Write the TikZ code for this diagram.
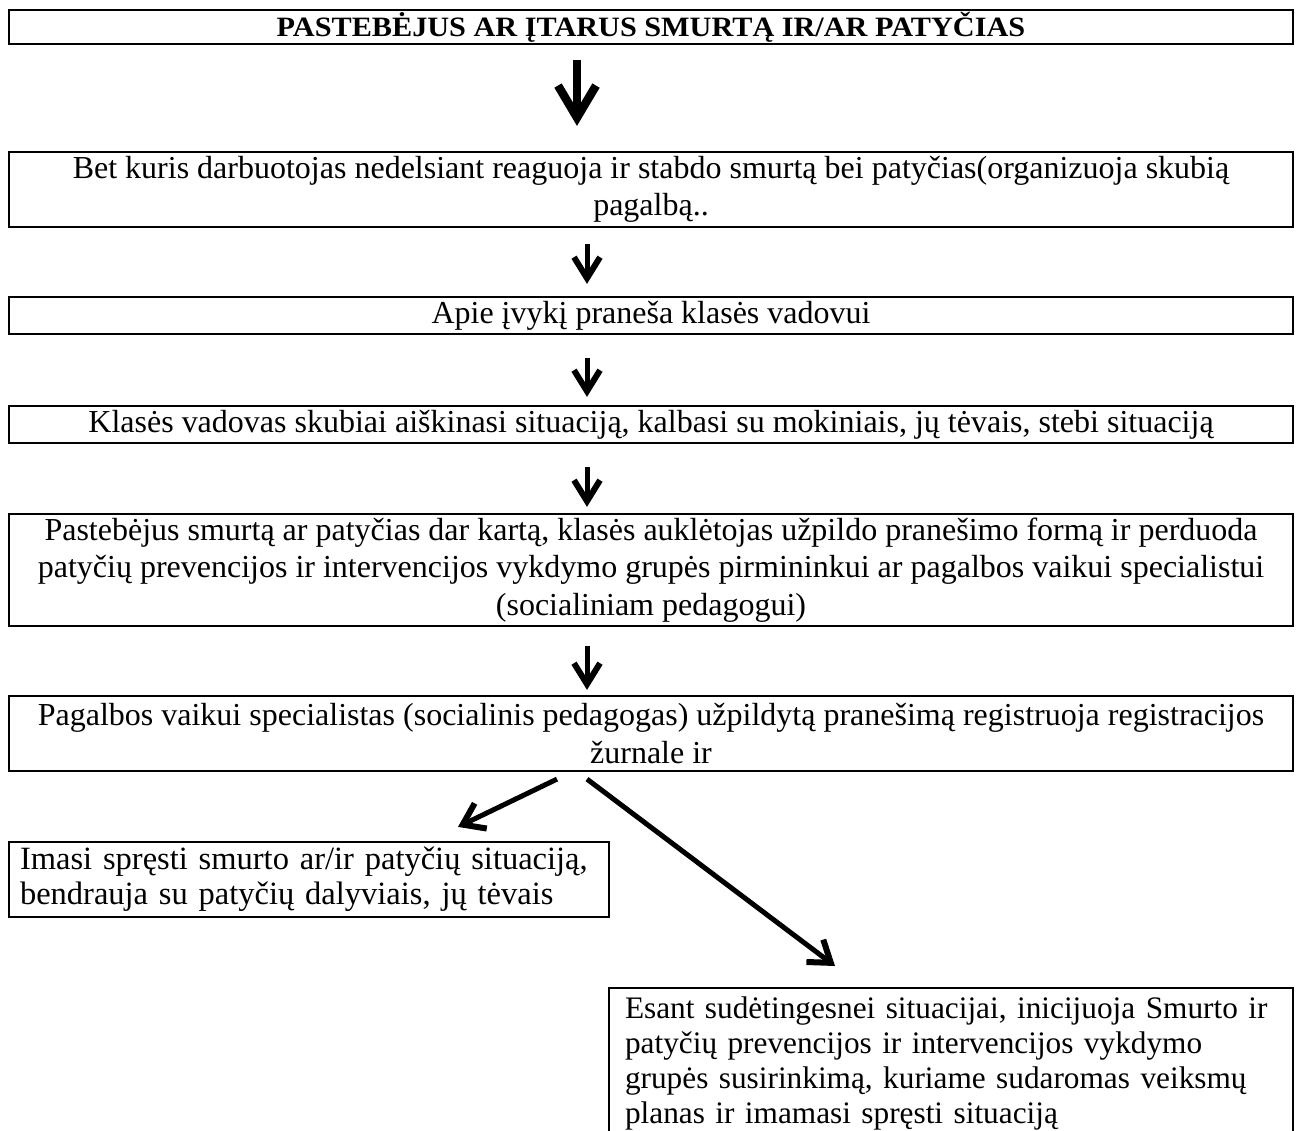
\documentclass[tikz,border=0pt]{standalone}
\usepackage{fontspec}
\setmainfont{Liberation Serif}
\usetikzlibrary{arrows.meta}
\begin{document}
\begin{tikzpicture}[x=1pt,y=-1pt,
  box/.style={draw, line width=2.2pt, inner sep=0pt, align=center,
    font=\fontsize{32}{37.5}\selectfont},
  lbox/.style={draw, line width=2.2pt, inner ysep=0pt, align=left,
    font=\fontsize{32.5}{35}\selectfont},
  arr/.style={line width=5pt, -{Straight Barb[length=21pt,width=26pt,line width=6pt]}},
  darr/.style={line width=5pt, -{Straight Barb[length=20pt,width=28pt,line width=6pt]}},
  bigarr/.style={line width=8pt, -{Straight Barb[length=32pt,width=38pt,line width=8.5pt]}}]
\useasboundingbox (0,0) rectangle (1304,1131);
\clip (0,0) rectangle (1304,1131);
\coordinate (ca) at (577,0);
\coordinate (cb) at (587,0);
\node[box, minimum width=1284pt, minimum height=34pt,
  font=\bfseries\fontsize{28}{31}\selectfont\addfontfeature{FakeStretch=1.08}] (b1) at (651,27)
  {PASTEBĖJUS AR ĮTARUS SMURTĄ IR/AR PATYČIAS};
\node[box, minimum width=1284pt, minimum height=75pt] (b2) at (651,189.5)
  {Bet kuris darbuotojas nedelsiant reaguoja ir stabdo smurtą bei patyčias(organizuoja skubią\\pagalbą..};
\node[box, minimum width=1284pt, minimum height=37pt] (b3) at (651,315.5)
  {Apie įvykį praneša klasės vadovui};
\node[box, minimum width=1284pt, minimum height=37pt] (b4) at (651,424.5)
  {Klasės vadovas skubiai aiškinasi situaciją, kalbasi su mokiniais, jų tėvais, stebi situaciją};
\node[box, minimum width=1284pt, minimum height=112pt] (b5) at (651,570)
  {Pastebėjus smurtą ar patyčias dar kartą, klasės auklėtojas užpildo pranešimo formą ir perduoda\\
   patyčių prevencijos ir intervencijos vykdymo grupės pirmininkui ar pagalbos vaikui specialistui\\
   (socialiniam pedagogui)};
\node[box, minimum width=1284pt, minimum height=75pt] (b6) at (651,733.5)
  {Pagalbos vaikui specialistas (socialinis pedagogas) užpildytą pranešimą registruoja registracijos\\
   žurnale ir};
\node[lbox, minimum width=600pt, minimum height=75pt, text width=578pt, inner xsep=11pt] (b7) at (309,879.5)
  {Imasi spręsti smurto ar/ir patyčių situaciją,\\bendrauja su patyčių dalyviais, jų tėvais};
\node[lbox, anchor=north, minimum width=684pt, text width=652pt, inner xsep=16pt, inner ysep=5.5pt,
  font=\fontsize{31.3}{35}\selectfont] (b8) at (951,987)
  {\strut Esant sudėtingesnei situacijai, inicijuoja Smurto ir\\
   patyčių prevencijos ir intervencijos vykdymo\\
   grupės susirinkimą, kuriame sudaromas veiksmų\\
   planas ir imamasi spręsti situaciją\strut};
\draw[bigarr, shorten <=15pt, shorten >=25pt] (b1.south -| ca) -- (b2.north -| ca);
\draw[arr, shorten <=16pt, shorten >=12pt] (b2.south -| cb) -- (b3.north -| cb);
\draw[arr, shorten <=23pt, shorten >=8pt] (b3.south -| cb) -- (b4.north -| cb);
\draw[arr, shorten <=23pt, shorten >=6pt] (b4.south -| cb) -- (b5.north -| cb);
\draw[arr, shorten <=19pt, shorten >=5pt] (b5.south -| cb) -- (b6.north -| cb);
\draw[darr] ([shift={(-94,7)}]b6.south) -- ([shift={(149,-14)}]b7.north);
\draw[darr] ([shift={(-64,7)}]b6.south) -- ([shift={(-116,-21)}]b8.north);
\end{tikzpicture}
\end{document}
